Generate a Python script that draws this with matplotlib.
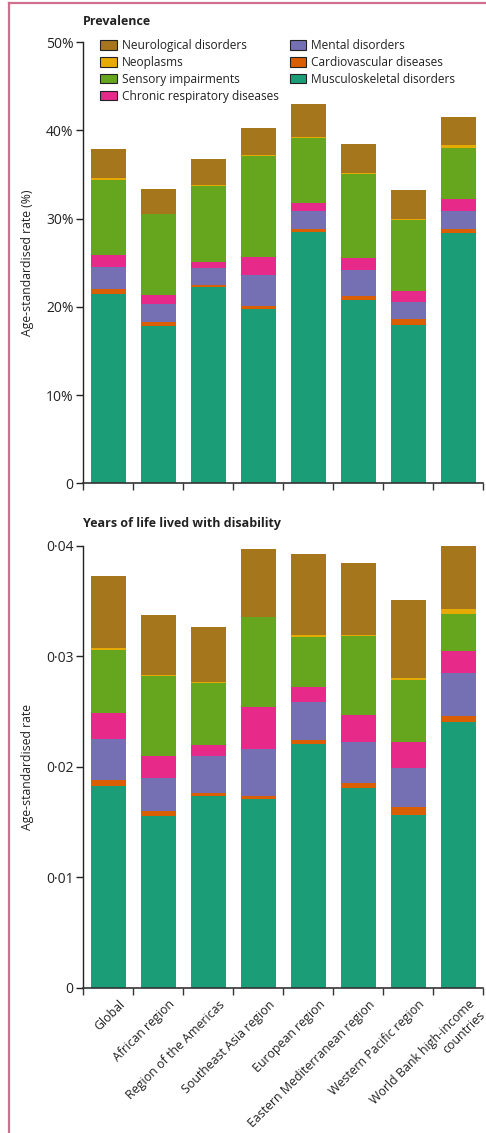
import numpy as np
import matplotlib
matplotlib.use("Agg")
import matplotlib.pyplot as plt
from matplotlib.lines import Line2D

regions = ["Global", "African region", "Region of the Americas", "Southeast Asia region",
           "European region", "Eastern Mediterranean region", "Western Pacific region",
           "World Bank high-income\ncountries"]

# stacking order, bottom to top
causes = ["Musculoskeletal disorders", "Cardiovascular diseases", "Mental disorders",
          "Chronic respiratory diseases", "Sensory impairments", "Neoplasms",
          "Neurological disorders"]
colors = ["#1b9e77", "#d95f02", "#7570b3", "#e7298a", "#66a61e", "#e6ab02", "#a6761d"]

# prevalence, % (per cause, per region)
prev_musc = [21.5, 17.85, 22.2, 19.75, 28.5, 20.8, 17.9, 28.35]
prev_cardio = [0.5, 0.45, 0.25, 0.35, 0.3, 0.45, 0.7, 0.45]
prev_mental = [2.5, 2.0, 1.95, 3.5, 2.05, 2.95, 1.95, 2.05]
prev_resp = [1.35, 1.0, 0.7, 2.0, 0.9, 1.35, 1.25, 1.35]
prev_sensory = [8.55, 9.2, 8.6, 11.5, 7.4, 9.5, 8.05, 5.8]
prev_neo = [0.2, 0.05, 0.05, 0.05, 0.12, 0.15, 0.12, 0.35]
prev_neuro = [3.25, 2.8, 3.0, 3.1, 3.7, 3.2, 3.25, 3.15]

# YLD rate
yld_musc = [0.01829, 0.01558, 0.01739, 0.01709, 0.02209, 0.01811, 0.01564, 0.02408]
yld_cardio = [0.00055, 0.00042, 0.00024, 0.0003, 0.00033, 0.00043, 0.00073, 0.00054]
yld_mental = [0.0037, 0.003, 0.00337, 0.00422, 0.00347, 0.00373, 0.00355, 0.00386]
yld_resp = [0.00235, 0.002, 0.00097, 0.0038, 0.00133, 0.00241, 0.00235, 0.00199]
yld_sensory = [0.00567, 0.0072, 0.00558, 0.0081, 0.00452, 0.00715, 0.00558, 0.00335]
yld_neo = [0.0002, 0.0001, 0.0001, 0.00005, 0.00018, 0.0001, 0.00018, 0.00045]
yld_neuro = [0.0065, 0.00546, 0.005, 0.00615, 0.0073, 0.0065, 0.00705, 0.00597]

prev = [prev_musc, prev_cardio, prev_mental, prev_resp, prev_sensory, prev_neo, prev_neuro]
yld = [yld_musc, yld_cardio, yld_mental, yld_resp, yld_sensory, yld_neo, yld_neuro]

plt.rcParams['font.family'] = ['Open Sans', 'DejaVu Sans']
txt = "#222222"

fig = plt.figure(figsize=(4.86, 11.33), dpi=100)
ax1 = fig.add_axes([0.1714, 0.5734, 0.823, 0.3895])
ax2 = fig.add_axes([0.1714, 0.128, 0.823, 0.3904])

x = np.arange(len(regions))


def stack(ax, data):
    bottom = np.zeros(len(regions))
    for vals, col, name in zip(data, colors, causes):
        ax.bar(x, vals, bottom=bottom, width=0.69, color=col, label=name, linewidth=0)
        bottom += np.array(vals)


def style(ax):
    ax.set_xlim(-0.5, len(regions) - 0.5)
    for s in ["top", "right"]:
        ax.spines[s].set_visible(False)
    ax.spines["left"].set_color("#222222")
    ax.spines["bottom"].set_color("#333333")
    ax.spines["left"].set_linewidth(1.0)
    ax.spines["bottom"].set_linewidth(1.2)
    ax.set_xticks(np.arange(len(regions) + 1) - 0.5)
    ax.set_xticklabels([])
    ax.tick_params(axis="x", length=5, width=1, color="#333333")
    ax.tick_params(axis="y", length=5, width=1, color="#222222", labelsize=10,
                   labelcolor=txt, pad=2)


stack(ax1, prev)
style(ax1)
ax1.set_ylim(0, 50)
ax1.set_yticks([0, 10, 20, 30, 40, 50])
ax1.set_yticklabels(["0", "10%", "20%", "30%", "40%", "50%"])
ax1.set_ylabel("Age-standardised rate (%)", fontsize=8.8, color=txt)
ax1.yaxis.set_label_coords(-0.123, 0.5)
ax1.text(0.0, 1.046, "Prevalence", transform=ax1.transAxes, fontsize=9,
         fontweight="bold", color=txt, va="center")

order = [6, 5, 4, 3, 2, 1, 0]
leg_h = [plt.Rectangle((0, 0), 1, 1, facecolor=colors[i], edgecolor="#222222",
                       linewidth=0.8) for i in order]
leg = ax1.legend(leg_h, [causes[i] for i in order], ncol=2, frameon=False,
                 loc="upper left", bbox_to_anchor=(0.028, 1.02), fontsize=8.6,
                 handlelength=1.4, handleheight=0.8, handletextpad=0.4,
                 labelspacing=0.33, columnspacing=0.9, borderpad=0)
for t in leg.get_texts():
    t.set_color(txt)

stack(ax2, yld)
style(ax2)
ax2.set_ylim(0, 0.04)
ax2.set_yticks([0, 0.01, 0.02, 0.03, 0.04])
ax2.set_yticklabels(["0", "0·01", "0·02", "0·03", "0·04"])
ax2.set_ylabel("Age-standardised rate", fontsize=8.8, color=txt)
ax2.yaxis.set_label_coords(-0.123, 0.5)
ax2.text(0.0, 1.051, "Years of life lived with disability", transform=ax2.transAxes,
         fontsize=9, fontweight="bold", color=txt, va="center")

for i, lab in enumerate(regions):
    ax2.text(i + 0.2, -0.0009, lab, rotation=45, ha="right", va="top",
             rotation_mode="anchor", fontsize=8.9, color=txt,
             transform=ax2.transData)

# page border (left and top rule)
fig.add_artist(Line2D([9 / 486, 9 / 486], [0, 1 - 3 / 1133], transform=fig.transFigure,
                      color="#d0708e", linewidth=1.6))
fig.add_artist(Line2D([9 / 486, 1], [1 - 3 / 1133, 1 - 3 / 1133], transform=fig.transFigure,
                      color="#d0708e", linewidth=1.6))

fig.savefig("out.png", dpi=100)
